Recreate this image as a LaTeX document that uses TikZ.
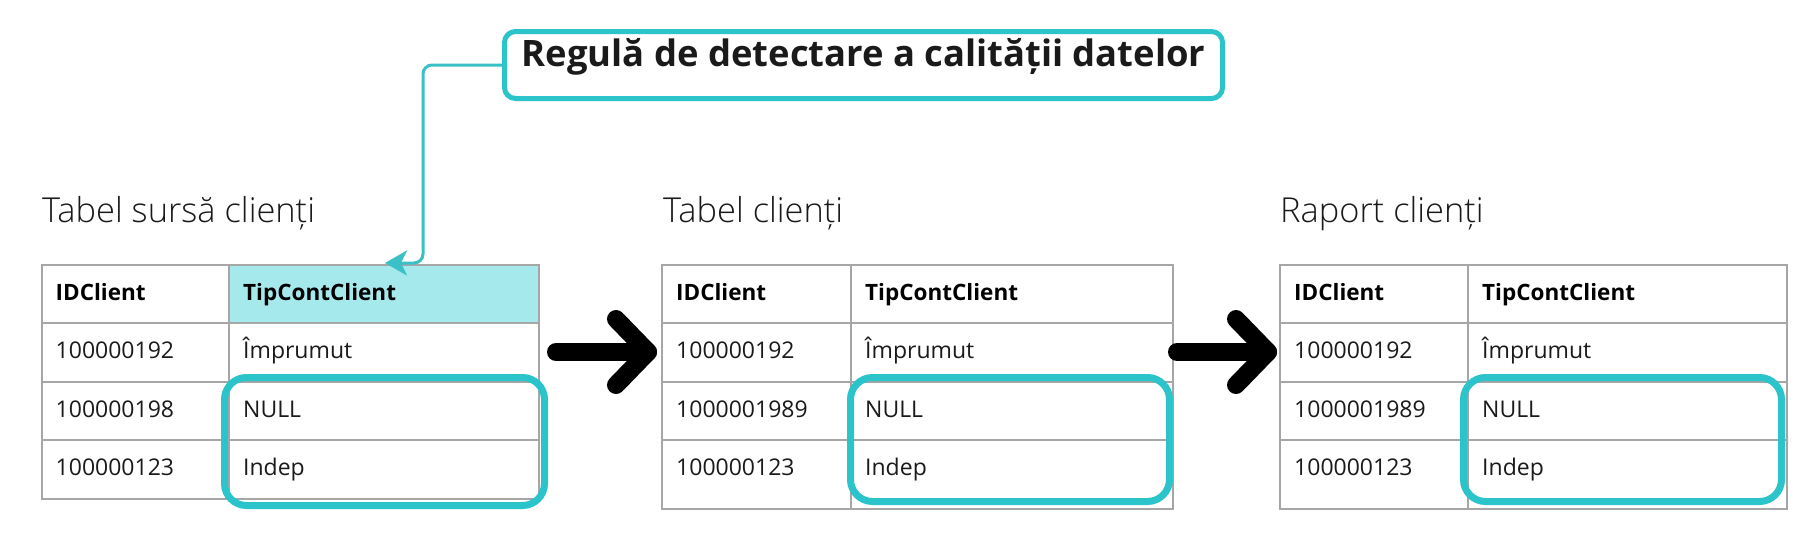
\documentclass[tikz,border=0pt]{standalone}
\usepackage{fontspec}
\setmainfont{Open Sans}
\IfFontExistsTF{Open Sans Light}{\newfontfamily\lightfont{Open Sans Light}}{\newfontfamily\lightfont{Open Sans}}
\usetikzlibrary{arrows.meta}
\definecolor{tealc}{HTML}{2BC4CB}
\definecolor{connc}{HTML}{3CC0C8}
\definecolor{headfill}{HTML}{A6E9EC}
\definecolor{gridc}{HTML}{A6A6A6}
\definecolor{txtc}{HTML}{1A1A1A}
\newcommand\mytable[4]{% left, divider, right, bottom
  \draw[gridline] (#1,265) rectangle (#3,#4);
  \draw[gridline] (#2,265) -- (#2,#4);
  \foreach \yy in {323,381.5,440} \draw[gridline] (#1,\yy) -- (#3,\yy);
}
\begin{document}
\begin{tikzpicture}[x=1pt,y=-1pt,
  gridline/.style={draw=gridc,line width=2pt},
  cellb/.style={font=\fontsize{22.5}{26}\selectfont\bfseries,text=black,inner sep=0pt,anchor=base west},
  cell/.style={font=\fontsize{23}{27}\selectfont,text=txtc,inner sep=0pt,anchor=base west},
  tlabel/.style={font=\lightfont\fontsize{34.4}{40}\selectfont,text=txtc,inner sep=0pt,anchor=base west},
  hlbox/.style={draw=tealc,line width=7pt,rounded corners=22pt,minimum height=124pt,inner sep=0pt},
  rulebox/.style={draw=tealc,line width=5pt,rounded corners=11pt,fill=white,minimum width=718pt,minimum height=67pt,inner sep=0pt},
  conn/.style={draw=connc,line width=3pt,rounded corners=9pt,-{Stealth[length=22pt 0 0,width=25pt 0 0,inset=6pt 0]}},
  bigarr/.style={draw=black,line width=18pt,line cap=round,line join=round}
]
\useasboundingbox[fill=white] (0,0) rectangle (1818,536);

% header fill of source table
\fill[headfill] (229,265) rectangle (538.5,323);

% tables
\mytable{41.5}{229}{538.5}{498.5}
\mytable{662}{851}{1173}{509}
\mytable{1280}{1468}{1787}{509}

% table labels
\node[tlabel] (lab1) at (42,222) {Tabel sursă clienți};
\node[tlabel] (lab2) at (663,222) {Tabel clienți};
\node[tlabel] (lab3) at (1280,222) {Raport clienți};

% table 1 texts
\node[cellb] (a11) at (55.5,300) {IDClient};
\node[cellb] (a12) at (243,300) {TipContClient};
\node[cell] (a21) at (55.5,358) {100000192};
\node[cell] (a22) at (243,358) {Împrumut};
\node[cell] (a31) at (55.5,417) {100000198};
\node[cell] (a32) at (243,417) {NULL};
\node[cell] (a41) at (55.5,475) {100000123};
\node[cell] (a42) at (243,475) {Indep};

% table 2 texts
\node[cellb] (b11) at (676,300) {IDClient};
\node[cellb] (b12) at (865,300) {TipContClient};
\node[cell] (b21) at (676,358) {100000192};
\node[cell] (b22) at (865,358) {Împrumut};
\node[cell] (b31) at (676,417) {1000001989};
\node[cell] (b32) at (865,417) {NULL};
\node[cell] (b41) at (676,475) {100000123};
\node[cell] (b42) at (865,475) {Indep};

% table 3 texts
\node[cellb] (c11) at (1294,300) {IDClient};
\node[cellb] (c12) at (1482,300) {TipContClient};
\node[cell] (c21) at (1294,358) {100000192};
\node[cell] (c22) at (1482,358) {Împrumut};
\node[cell] (c31) at (1294,417) {1000001989};
\node[cell] (c32) at (1482,417) {NULL};
\node[cell] (c41) at (1294,475) {100000123};
\node[cell] (c42) at (1482,475) {Indep};

% highlight boxes
\node[hlbox,minimum width=320pt,minimum height=128pt] (h1) at (384.5,441.5) {};
\node[hlbox,minimum width=319pt] (h2) at (1010,439.5) {};
\node[hlbox,minimum width=318pt] (h3) at (1622.5,439.5) {};

% rule box
\node[rulebox] (rule) at (863.5,65) {};
\node[font=\fontsize{36.4}{40}\selectfont\bfseries,text=txtc,inner sep=0pt,anchor=base] (ruletxt) at (863.5,66.5) {Regulă de detectare a calității datelor};

% connector
\coordinate (bend) at (423,263);
\coordinate (tip) at (385,263);
\draw[conn] (rule.west) -| (bend) -- (tip);

% big arrows
\coordinate (a1s) at (556,352);
\coordinate (a1e) at (648,352);
\coordinate (a2s) at (1177,352);
\coordinate (a2e) at (1268,352);
\draw[bigarr] (a1s) -- (a1e);
\draw[bigarr] ([shift={(-32,-33)}]a1e) -- (a1e) -- ++(-32,33);
\draw[bigarr] (a2s) -- (a2e);
\draw[bigarr] ([shift={(-32,-33)}]a2e) -- (a2e) -- ++(-32,33);
\end{tikzpicture}
\end{document}
